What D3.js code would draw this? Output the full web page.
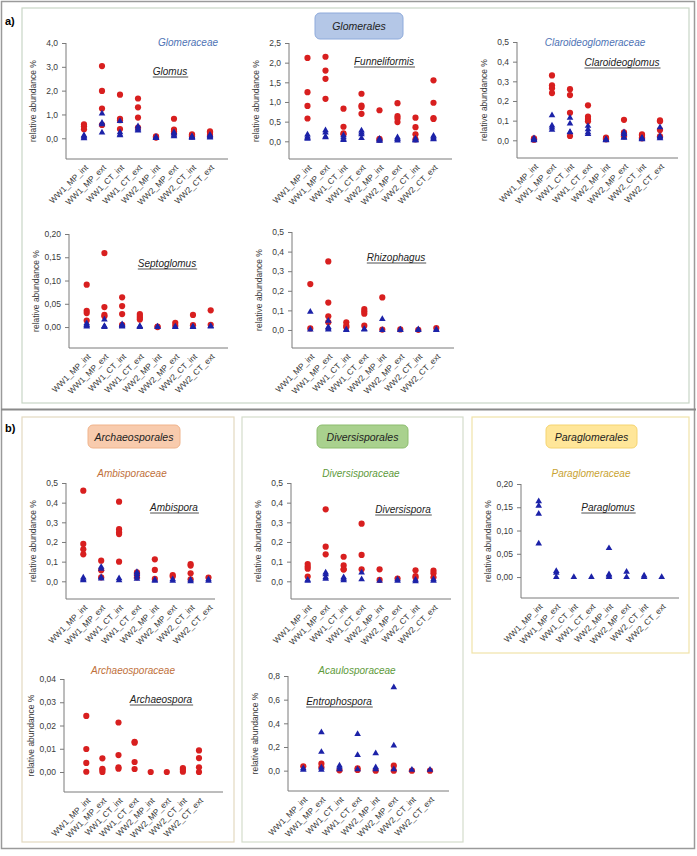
<!DOCTYPE html>
<html><head><meta charset="utf-8">
<script src="https://cdn.jsdelivr.net/npm/d3@7"></script>
<style>body{margin:0;background:#fff}svg{display:block;font-family:"Liberation Sans",Arial,sans-serif}</style>
</head><body><svg id="c" width="697" height="856"></svg>
<script>
const categories = ["WW1_MP_int","WW1_MP_ext","WW1_CT_int","WW1_CT_ext","WW2_MP_int","WW2_MP_ext","WW2_CT_int","WW2_CT_ext"];

// red circles (series A) and blue triangles (series B), one list of replicate values per category
const glomusRed = [[0.58,0.5,0.38],[3.03,1.99,1.25,0.56],[1.83,0.82,0.76,0.39],[1.67,1.3,0.87,0.45],[0.08,0.05,0.03],[0.82,0.36,0.3,0.2],[0.17,0.12,0.08],[0.29,0.24,0.15,0.1]];
const glomusBlue = [[0.12,0.08,0.03,0.0],[1.04,0.65,0.58,0.24],[0.72,0.25,0.15,0.12],[0.5,0.42,0.36,0.32],[0.05,0.03,0.02,0.01],[0.25,0.2,0.12,0.08],[0.08,0.05,0.03,0.02],[0.14,0.1,0.06,0.03]];
const glomusTicks = [0,1,2,3,4];

const funneliformisRed = [[2.12,1.25,0.9,0.58],[2.15,1.8,1.59,1.08],[0.83,0.37,0.2,0.18],[1.21,0.91,0.87,0.7],[0.79,0.06,0.04],[0.97,0.64,0.58,0.49],[0.6,0.36,0.18,0.05],[1.55,0.98,0.59,0.57]];
const funneliformisBlue = [[0.17,0.12,0.08,0.06],[0.28,0.22,0.12,0.1],[0.15,0.1,0.05,0.03],[0.27,0.22,0.18,0.08],[0.06,0.04,0.02,0.01],[0.1,0.07,0.05,0.02],[0.07,0.04,0.03,0.02],[0.14,0.1,0.07,0.05]];
const funneliformisTicks = [0,0.5,1,1.5,2,2.5];

const claroideoglomusRed = [[0.01,0.005,0.003],[0.33,0.28,0.265,0.24],[0.26,0.23,0.14,0.022],[0.178,0.12,0.108,0.097],[0.014,0.01,0.005],[0.104,0.04,0.03,0.02],[0.03,0.025,0.015,0.01],[0.102,0.097,0.053,0.02]];
const claroideoglomusBlue = [[0.01,0.005,0.002,0.0],[0.127,0.075,0.065,0.053],[0.114,0.085,0.042,0.04],[0.073,0.056,0.04,0.032],[0.005,0.003,0.001,0.0],[0.04,0.032,0.015,0.012],[0.012,0.01,0.008,0.005],[0.066,0.022,0.015,0.01]];
const claroideoglomusTicks = [0,0.1,0.2,0.3,0.4,0.5];

const septoglomusRed = [[0.091,0.035,0.03,0.014],[0.159,0.043,0.026,0.023],[0.064,0.045,0.028,0.005],[0.028,0.024,0.02,0.016],[0.001,0.0],[0.009,0.003],[0.026,0.004],[0.036,0.005]];
const septoglomusBlue = [[0.008,0.005,0.003,0.001],[0.016,0.002,0.001,0.0],[0.006,0.004,0.002,0.001],[0.002,0.001,0.0],[0.001,0.0],[0.001,0.0],[0.001,0.0],[0.002,0.001]];
const septoglomusTicks = [0,0.05,0.1,0.15,0.2];

const rhizophagusRed = [[0.234,0.008],[0.35,0.14,0.07,0.04],[0.039,0.022,0.014],[0.107,0.095,0.083,0.022],[0.166,0.002],[0.003],[0.001],[0.01]];
const rhizophagusBlue = [[0.092,0.002],[0.047,0.015,0.008,0.002],[0.002,0.0],[0.005,0.002],[0.056,0.0],[0.002,0.0],[0.003,0.0],[0.002,0.0]];
const rhizophagusTicks = [0,0.1,0.2,0.3,0.4,0.5];

const ambisporaRed = [[0.461,0.19,0.163,0.137],[0.105,0.056,0.02],[0.405,0.265,0.25,0.24,0.1],[0.045,0.035,0.02],[0.112,0.058,0.012],[0.032,0.024],[0.088,0.08,0.041,0.01],[0.019]];
const ambisporaBlue = [[0.019,0.01,0.005],[0.073,0.064,0.02,0.014],[0.015,0.005],[0.047,0.037,0.024,0.012],[0.007,0.002],[0.01,0.002],[0.007,0.0],[0.01,0.003]];
const ambisporaTicks = [0,0.1,0.2,0.3,0.4,0.5];

const diversisporaRed = [[0.088,0.075,0.064,0.024],[0.366,0.176,0.137],[0.125,0.081,0.061,0.06],[0.293,0.134,0.061],[0.061,0.007],[0.014],[0.056,0.027,0.019],[0.054,0.041,0.02]];
const diversisporaBlue = [[0.007,0.002],[0.044,0.036,0.02,0.012],[0.02,0.012,0.005],[0.044,0.01],[0.002],[0.01,0.003],[0.007,0.0],[0.01,0.002]];
const diversisporaTicks = [0,0.1,0.2,0.3,0.4,0.5];

const paraglomusRed = [[],[],[],[],[],[],[],[]];
const paraglomusBlue = [[0.163,0.153,0.136,0.072],[0.013,0.009,0.0],[0.0],[0.0],[0.062,0.006,0.003,0.0],[0.011,0.0],[0.003,0.0],[0.0]];
const paraglomusTicks = [0,0.05,0.1,0.15,0.2];

const archaeosporaRed = [[0.0241,0.0099,0.0039,0.0001],[0.0059,0.0014,0.0009,0.0],[0.0213,0.0073,0.002,0.0014],[0.013,0.0126,0.0043,0.0013],[0.0],[0.0],[0.0017,0.001,0.0001],[0.0093,0.006,0.002,0.0]];
const archaeosporaBlue = [[],[],[],[],[],[],[],[]];
const archaeosporaTicks = [0,0.01,0.02,0.03,0.04];

const entrophosporaRed = [[0.037],[0.059,0.028],[0.003],[0.02,0.006],[0.0],[0.042,0.0],[0.0],[0.0]];
const entrophosporaBlue = [[0.02,0.006],[0.324,0.158,0.025,0.006],[0.042,0.028,0.011],[0.31,0.132,0.011],[0.146,0.028,0.011],[0.704,0.211,0.011],[0.006],[0.006]];
const entrophosporaTicks = [0,0.2,0.4,0.6,0.8];

// ---------------- layout -----------------
const svg = d3.select("#c");
const RED = "#d81f1f", BLUE = "#1c22a8";
const TXT = "#3a3a3a";

// frames
svg.append("rect").attr("x",1.5).attr("y",1.5).attr("width",693).attr("height",847).attr("fill","none").attr("stroke","#9a9a9a").attr("stroke-width",1.5);
svg.append("rect").attr("x",22).attr("y",8).attr("width",667).attr("height",395).attr("fill","none").attr("stroke","#c9d6c6").attr("stroke-width",1.2);
svg.append("line").attr("x1",1).attr("x2",696).attr("y1",409.5).attr("y2",409.5).attr("stroke","#8a8a8a").attr("stroke-width",2);
svg.append("rect").attr("x",22).attr("y",417).attr("width",212).attr("height",425).attr("fill","none").attr("stroke","#e3d9c0").attr("stroke-width",1.2);
svg.append("rect").attr("x",242).attr("y",417).attr("width",221).attr("height",425).attr("fill","none").attr("stroke","#d4dccb").attr("stroke-width",1.2);
svg.append("rect").attr("x",472).attr("y",417).attr("width",217).attr("height",236).attr("fill","none").attr("stroke","#f1e3a9").attr("stroke-width",1.2);

svg.append("text").attr("x",5).attr("y",25).attr("font-size",11).attr("font-weight","bold").text("a)");
svg.append("text").attr("x",5).attr("y",432).attr("font-size",11).attr("font-weight","bold").text("b)");

const orders = [
  {t:"Glomerales", x:315, y:13, w:88, h:26, fill:"#b4c7e7", stroke:"#8eaadb"},
  {t:"Archaeosporales", x:88, y:425, w:92, h:23, fill:"#f8cbad", stroke:"#f0b48c"},
  {t:"Diversisporales", x:317, y:425, w:91, h:23, fill:"#a9d18e", stroke:"#8dbd6f"},
  {t:"Paraglomerales", x:546, y:425, w:91, h:23, fill:"#ffe699", stroke:"#f5d470"}
];
orders.forEach(o=>{
  svg.append("rect").attr("x",o.x).attr("y",o.y).attr("width",o.w).attr("height",o.h).attr("rx",5)
     .attr("fill",o.fill).attr("stroke",o.stroke);
  svg.append("text").attr("x",o.x+o.w/2).attr("y",o.y+o.h/2+4).attr("text-anchor","middle")
     .attr("font-size",10.5).attr("font-style","italic").attr("fill","#222").text(o.t);
});

const families = [
  {t:"Glomeraceae", x:188, y:46, c:"#4e73b5"},
  {t:"Claroideoglomeraceae", x:595, y:46, c:"#4e73b5"},
  {t:"Ambisporaceae", x:132, y:477, c:"#c0703a"},
  {t:"Diversisporaceae", x:361, y:477, c:"#5e9a3a"},
  {t:"Paraglomeraceae", x:591, y:477, c:"#c9a332"},
  {t:"Archaeosporaceae", x:133, y:674, c:"#c0703a"},
  {t:"Acaulosporaceae", x:357, y:674, c:"#5e9a3a"}
];
families.forEach(f=>{
  svg.append("text").attr("x",f.x).attr("y",f.y).attr("text-anchor","middle").attr("font-size",10)
     .attr("font-style","italic").attr("fill",f.c).text(f.t);
});

const panels = [
  {g:"Glomus", red:glomusRed, blue:glomusBlue, ticks:glomusTicks, dec:1, ax:66, x1:228, c0:84, c1:210, hi:4, lo:-0.87, top:43, bot:159, gx:170, gy:75},
  {g:"Funneliformis", red:funneliformisRed, blue:funneliformisBlue, ticks:funneliformisTicks, dec:1, ax:289, x1:452, c0:307.5, c1:433.5, hi:2.5, lo:-0.45, top:43, bot:159, gx:384, gy:65},
  {g:"Claroideoglomus", red:claroideoglomusRed, blue:claroideoglomusBlue, ticks:claroideoglomusTicks, dec:1, ax:517, x1:678, c0:534, c1:660, hi:0.5, lo:-0.09, top:42, bot:158, gx:622, gy:66},
  {g:"Septoglomus", red:septoglomusRed, blue:septoglomusBlue, ticks:septoglomusTicks, dec:2, ax:69, x1:228, c0:86.7, c1:210.7, hi:0.2, lo:-0.045, top:234, bot:348, gx:167, gy:267},
  {g:"Rhizophagus", red:rhizophagusRed, blue:rhizophagusBlue, ticks:rhizophagusTicks, dec:1, ax:292, x1:454, c0:310.3, c1:436.3, hi:0.5, lo:-0.092, top:232, bot:348, gx:396, gy:261},
  {g:"Ambispora", red:ambisporaRed, blue:ambisporaBlue, ticks:ambisporaTicks, dec:1, ax:66, x1:215, c0:83.3, c1:208.5, hi:0.5, lo:-0.09, top:483, bot:599, gx:174, gy:511},
  {g:"Diversispora", red:diversisporaRed, blue:diversisporaBlue, ticks:diversisporaTicks, dec:1, ax:291, x1:451, c0:307.7, c1:433.5, hi:0.5, lo:-0.09, top:483, bot:599, gx:403, gy:513},
  {g:"Paraglomus", red:paraglomusRed, blue:paraglomusBlue, ticks:paraglomusTicks, dec:2, ax:521, x1:679, c0:538.7, c1:661.7, hi:0.2, lo:-0.045, top:484, bot:598, gx:608, gy:511},
  {g:"Archaeospora", red:archaeosporaRed, blue:archaeosporaBlue, ticks:archaeosporaTicks, dec:2, ax:64, x1:223, c0:86.3, c1:199, hi:0.04, lo:-0.0086, top:679, bot:792, gx:161, gy:703},
  {g:"Entrophospora", red:entrophosporaRed, blue:entrophosporaBlue, ticks:entrophosporaTicks, dec:1, ax:288, x1:449, c0:303.3, c1:430, hi:0.8, lo:-0.172, top:676, bot:791, gx:339, gy:705}
];

const tri = d3.symbol().type(d3.symbolTriangle).size(19);

panels.forEach(p=>{
  const gEl = svg.append("g");
  const x = d3.scalePoint().domain(categories).range([p.c0, p.c1]);
  const y = d3.scaleLinear().domain([p.lo, p.hi]).range([p.bot, p.top]);
  const fmt = v => d3.format("." + p.dec + "f")(v).replace(".", ",");

  // y axis
  const yAx = gEl.append("g").attr("transform",`translate(${p.ax},0)`)
    .call(d3.axisLeft(y).tickValues(p.ticks).tickFormat(fmt).tickSizeOuter(0).tickSize(4).tickPadding(4));
  yAx.select(".domain").attr("d",`M0,${y(p.hi)}V${p.bot}`);
  yAx.selectAll("path,line").attr("stroke","#7a7a7a");
  yAx.selectAll("text").attr("font-size",8.5).attr("fill",TXT).attr("font-family","Liberation Sans, Arial, sans-serif");

  // x axis
  const xAx = gEl.append("g").attr("transform",`translate(0,${p.bot})`)
    .call(d3.axisBottom(x).tickSize(0).tickSizeOuter(0));
  xAx.select(".domain").attr("d",`M${p.ax},0H${p.x1}`).attr("stroke","#7a7a7a");
  xAx.selectAll(".tick text")
    .attr("font-size",8.3).attr("fill",TXT).attr("font-family","Liberation Sans, Arial, sans-serif")
    .attr("text-anchor","end").attr("y",0).attr("dy","0.35em")
    .attr("transform","translate(2,7) rotate(-45)");

  // y label
  gEl.append("text").attr("transform",`translate(${p.ax-30},${(p.top+p.bot)/2}) rotate(-90)`)
    .attr("text-anchor","middle").attr("font-size",8.5).attr("fill",TXT).text("relative abundance %");

  // genus label, underlined
  const gt = gEl.append("text").attr("x",p.gx).attr("y",p.gy).attr("text-anchor","middle")
    .attr("font-size",10).attr("font-style","italic").attr("fill","#222").text(p.g);
  const L = gt.node().getComputedTextLength();
  gEl.append("line").attr("x1",p.gx-L/2).attr("x2",p.gx+L/2+1).attr("y1",p.gy+2).attr("y2",p.gy+2)
    .attr("stroke","#222").attr("stroke-width",0.8);

  // points
  const redPts = [], bluePts = [];
  categories.forEach((c,i)=>{
    (p.red[i]||[]).forEach(v=>redPts.push({c,v}));
    (p.blue[i]||[]).forEach(v=>bluePts.push({c,v}));
  });
  gEl.append("g").selectAll("circle").data(redPts).join("circle")
    .attr("cx",d=>x(d.c)).attr("cy",d=>y(d.v)).attr("r",3.1).attr("fill",RED);
  gEl.append("g").selectAll("path").data(bluePts).join("path")
    .attr("d",tri).attr("transform",d=>`translate(${x(d.c)},${y(d.v)})`).attr("fill",BLUE);
});
</script>
</body></html>
